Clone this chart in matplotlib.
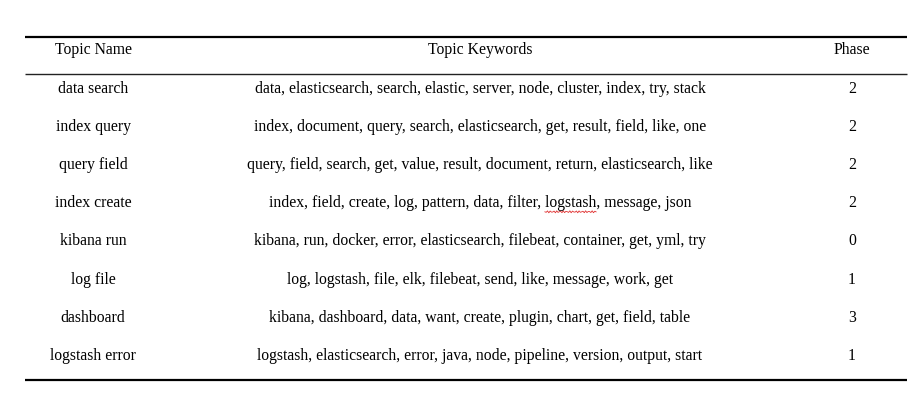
import matplotlib
matplotlib.use("Agg")
import matplotlib.pyplot as plt
import numpy as np

headers = ["Topic Name", "Topic Keywords", "Phase"]
topic_names = ["data search", "index query", "query field", "index create",
               "kibana run", "log file", "dashboard", "logstash error"]
topic_keywords = [
    "data, elasticsearch, search, elastic, server, node, cluster, index, try, stack",
    "index, document, query, search, elasticsearch, get, result, field, like, one",
    "query, field, search, get, value, result, document, return, elasticsearch, like",
    "index, field, create, log, pattern, data, filter, logstash, message, json",
    "kibana, run, docker, error, elasticsearch, filebeat, container, get, yml, try",
    "log, logstash, file, elk, filebeat, send, like, message, work, get",
    "kibana, dashboard, data, want, create, plugin, chart, get, field, table",
    "logstash, elasticsearch, error, java, node, pipeline, version, output, start",
]
phases = [2, 2, 2, 2, 0, 1, 3, 1]

W, H = 921, 400
fig = plt.figure(figsize=(W / 100, H / 100), dpi=100)
ax = fig.add_axes([0, 0, 1, 1])
ax.set_xlim(0, W)
ax.set_ylim(H, 0)
ax.axis("off")

font = dict(family="Liberation Serif", fontsize=11.3, color="black")
col_x = [93, 480, 852]
header_y = 50.5
row0_y = 89
row_step = 38.1
left, right = 25, 907

for x, h in zip(col_x, headers):
    ax.text(x, header_y, h, ha="center", va="center", **font)

for i, (n, k, p) in enumerate(zip(topic_names, topic_keywords, phases)):
    y = row0_y + i * row_step
    ax.text(col_x[0], y, n, ha="center", va="center", **font)
    t = ax.text(col_x[1], y, k, ha="center", va="center", **font)
    ax.text(col_x[2], y, str(p), ha="center", va="center", **font)
    if "filter, logstash" in k:
        fig.canvas.draw()
        r = fig.canvas.get_renderer()
        bb = t.get_window_extent(r)
        pre = k.split("logstash")[0]
        tmp = ax.text(0, 0, pre, **font)
        wpre = tmp.get_window_extent(r).width
        tmp.set_text("logstash")
        wword = tmp.get_window_extent(r).width
        tmp.remove()
        x0 = bb.x0 + wpre
        xs = np.linspace(x0, x0 + wword, 40)
        ys = y + 8.5 + 1.0 * np.sin((xs - x0) / 1.6 * np.pi)
        ax.plot(xs, ys, color="#e03030", lw=0.6)

ax.plot([left, right], [36.5, 36.5], color="black", lw=1.6, solid_capstyle="butt")
ax.plot([left, right], [74, 74], color="#222222", lw=1.0, solid_capstyle="butt")
ax.plot([left, right], [380, 380], color="black", lw=1.6, solid_capstyle="butt")

fig.savefig("out.png", dpi=100)
